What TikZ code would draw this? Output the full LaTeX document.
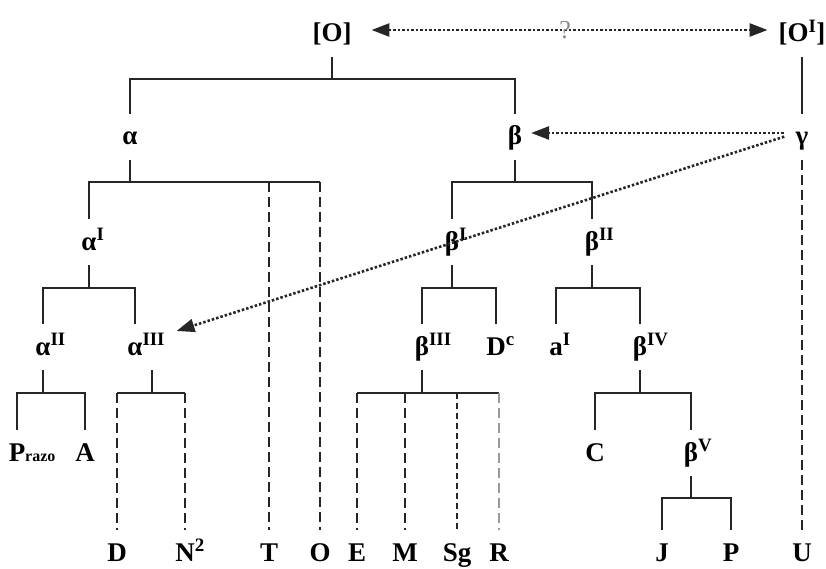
\documentclass[tikz,border=0pt]{standalone}
\usepackage{fontspec}
\setmainfont{Liberation Serif}
\usetikzlibrary{arrows.meta}
\newcommand{\Sup}[1]{\rlap{\textsuperscript{#1}}}
\begin{document}
\begin{tikzpicture}[x=1pt,y=-1pt,
  >={Triangle[length=18pt,width=13pt]},
  lbl/.style={font=\fontsize{27}{30}\selectfont\bfseries, inner sep=0pt, text height=20pt, text depth=4pt, outer ysep=11pt, outer xsep=0pt, anchor=base},
  tree/.style={line width=2.2pt, draw=black!85},
  dashln/.style={line width=2.4pt, draw=black!85, dash pattern=on 10pt off 5pt},
  fineln/.style={line width=2pt, draw=black!85, dash pattern=on 6pt off 4pt},
  grayln/.style={line width=2.4pt, draw=black!40, dash pattern=on 10pt off 5pt},
  dotarr/.style={line width=2.6pt, draw=black!85, dash pattern=on 2.5pt off 2pt},
  qmark/.style={font=\fontsize{26}{26}\selectfont, text=black!45, inner sep=0pt}]
\useasboundingbox (0,0) rectangle (826,569);
% labels
\node[lbl] (O)    at (332,42)  {[O]};
\node[lbl] (Op)   at (802,42)  {[O\textsuperscript{I}]};
\node[lbl] (a)    at (130,145) {α};
\node[lbl] (b)    at (515,145) {β};
\node[lbl] (g)    at (802,145) {γ};
\node[lbl] (aI)   at (89,250)  {α\Sup{I}};
\node[lbl] (bI)   at (452,250) {β\Sup{I}};
\node[lbl] (bII)  at (592,250) {β\Sup{II}};
\node[lbl] (aII)  at (43,355)  {α\Sup{II}};
\node[lbl] (aIII) at (135,355) {α\Sup{III}};
\node[lbl] (bIII) at (422,355) {β\Sup{III}};
\node[lbl] (Dc)   at (496,355) {D\Sup{c}};
\node[lbl] (al)   at (556,355) {a\Sup{I}};
\node[lbl] (bIV)  at (640,355) {β\Sup{IV}};
\node[lbl] (Pr)   at (17,461)  {P\rlap{\fontsize{16}{16}\selectfont razo}};
\node[lbl] (A)    at (85,461)  {A};
\node[lbl] (C)    at (595,461) {C};
\node[lbl] (bV)   at (691,461) {β\Sup{V}};
\node[lbl] (D)    at (117,561) {D};
\node[lbl] (N)    at (185,561) {N\Sup{2}};
\node[lbl] (T)    at (269,561) {T};
\node[lbl] (O2)   at (320,561) {O};
\node[lbl] (E)    at (357,561) {E};
\node[lbl] (M)    at (405,561) {M};
\node[lbl] (Sg)   at (457,561) {Sg};
\node[lbl] (R)    at (499,561) {R};
\node[lbl] (J)    at (662,561) {J};
\node[lbl] (nP)   at (731,561) {P};
\node[lbl] (U)    at (802,561) {U};
% tree: [O]
\draw[tree] (O.south) -- ++(0,22) coordinate (jO);
\draw[tree] (a.north) |- (jO) -| (b.north);
% alpha
\draw[tree] (a.south) -- ++(0,22) coordinate (ja);
\draw[tree] (aI.north) |- (ja) -- (ja -| O2);
\draw[dashln] (ja -| T) -- (T.north);
\draw[dashln] (ja -| O2) -- (O2.north);
% beta
\draw[tree] (b.south) -- ++(0,22) coordinate (jb);
\draw[tree] (bI.north) |- (jb) -| (bII.north);
% alpha I
\draw[tree] (aI.south) -- ++(0,23) coordinate (jaI);
\draw[tree] (aII.north) |- (jaI) -| (aIII.north);
% beta I
\draw[tree] (bI.south) -- ++(0,23) coordinate (jbI);
\draw[tree] (bIII.north) |- (jbI) -| (Dc.north);
% beta II
\draw[tree] (bII.south) -- ++(0,23) coordinate (jbII);
\draw[tree] (al.north) |- (jbII) -| (bIV.north);
% alpha II
\draw[tree] (aII.south) -- ++(0,23) coordinate (jaII);
\draw[tree] (Pr.north) |- (jaII) -| (A.north);
% alpha III
\draw[tree] ([xshift=17pt]aIII.south) -- ++(0,23) coordinate (jaIII);
\draw[tree] (jaIII -| D) -- (jaIII -| N);
\draw[dashln] (jaIII -| D) -- (D.north);
\draw[dashln] (jaIII -| N) -- (N.north);
% beta III
\draw[tree] (bIII.south) -- ++(0,23) coordinate (jbIII);
\draw[tree] (jbIII -| E) -- (jbIII -| R);
\draw[dashln] (jbIII -| E) -- (E.north);
\draw[dashln] (jbIII -| M) -- (M.north);
\draw[fineln] (jbIII -| Sg) -- (Sg.north);
\draw[grayln] (jbIII -| R) -- (R.north);
% beta IV
\draw[tree] (bIV.south) -- ++(0,23) coordinate (jbIV);
\draw[tree] (C.north) |- (jbIV) -| (bV.north);
% beta V
\draw[tree] (bV.south) -- ++(0,22) coordinate (jbV);
\draw[tree] (J.north) |- (jbV) -| (nP.north);
% [O'] and gamma
\draw[tree] (Op.south) -- (g.north);
\draw[dashln] (g.south) -- (U.north);
% dotted arrows
\draw[dotarr, <->, shorten <=20pt, shorten >=11pt] ([yshift=4pt]O.east) -- node[qmark]{?} ([yshift=4pt]Op.west);
\draw[dotarr, ->, shorten <=12pt, shorten >=9pt] ([yshift=4pt]g.west) -- ([yshift=4pt]b.east);
\draw[dotarr, ->, shorten <=12pt] ([yshift=4pt]g.west) -- ([xshift=34pt,yshift=-7pt]aIII.north east);
\end{tikzpicture}
\end{document}
